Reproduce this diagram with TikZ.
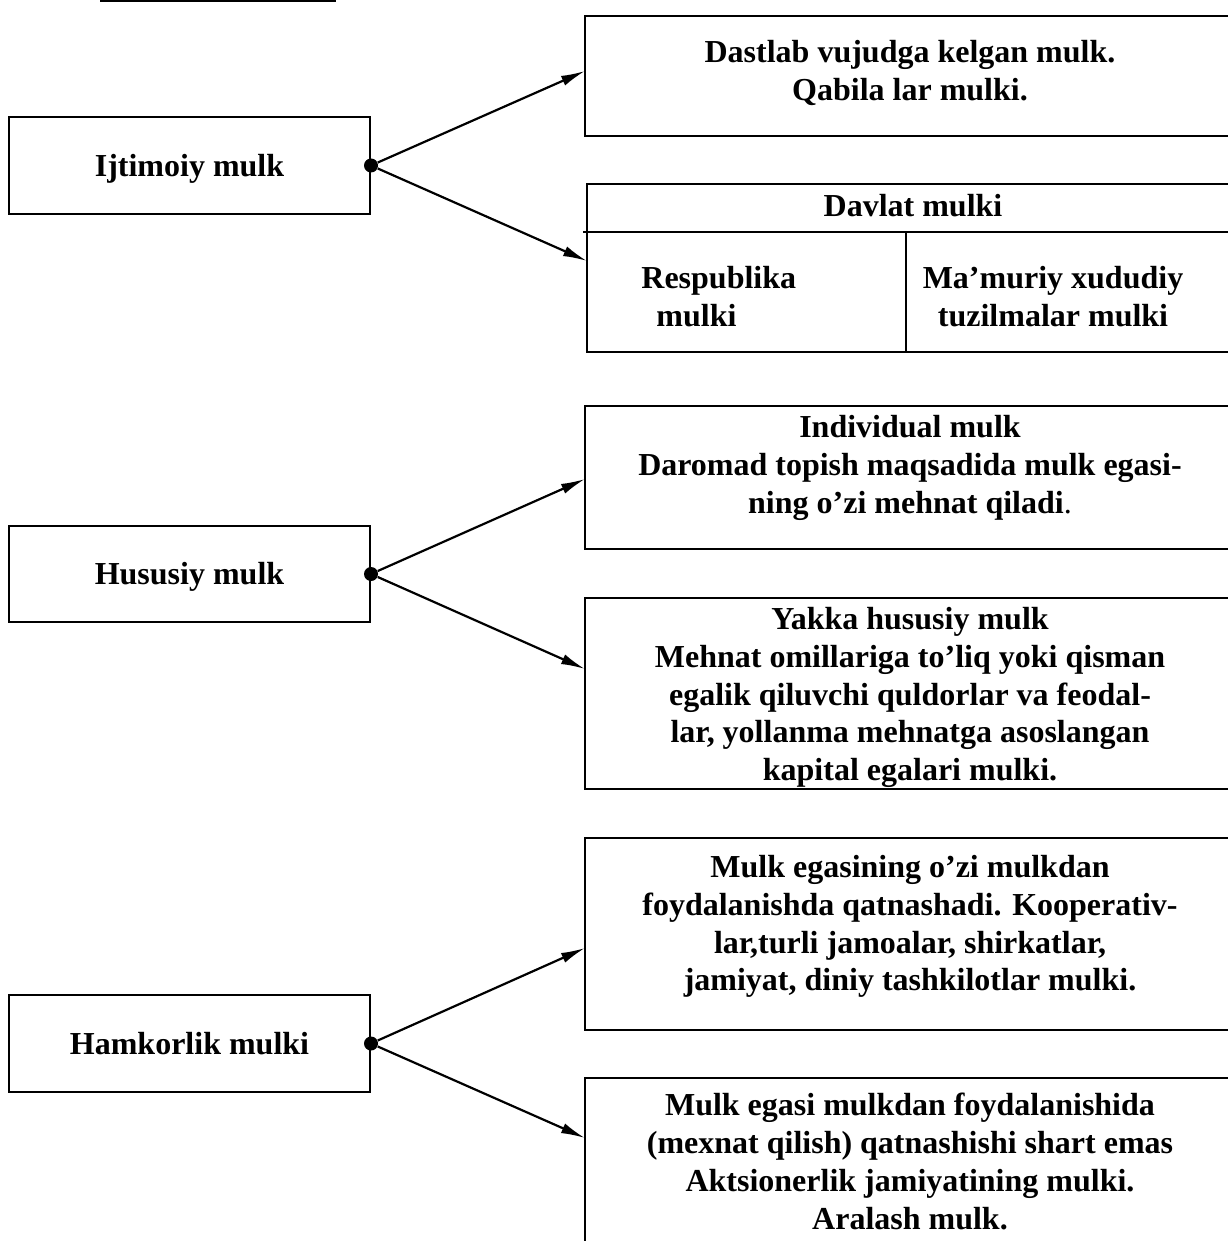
\documentclass[tikz,border=0pt]{standalone}
\usepackage{fontspec}
\setmainfont{Liberation Serif}
\usetikzlibrary{arrows.meta}
\begin{document}
\begin{tikzpicture}[x=0.5pt,y=-0.5pt,
every node/.style={font=\fontsize{16pt}{18.85pt}\selectfont\bfseries},
lbox/.style={draw, line width=1pt, inner sep=0pt, minimum width=180.5pt, minimum height=48.25pt, text height=10.6pt, text depth=0pt},
rbox/.style={draw, line width=1pt, inner sep=0pt, minimum width=325.5pt},
txt/.style={align=center, anchor=north, inner sep=0pt},
dot/.style={circle, fill, inner sep=0pt, minimum size=7pt},
arr/.style={-{Latex[length=12pt,width=5.2pt]}, line width=1.1pt}]
\useasboundingbox (0,0) rectangle (1227,1241);
\draw[line width=1pt] (100,1.5) -- (336,1.5);
\node[lbox] (ijtimoiy) at (189.5,165.5){Ijtimoiy mulk};
\node[lbox] (hususiy) at (189.5,574){Hususiy mulk};
\node[lbox] (hamkorlik) at (189.5,1043.5){Hamkorlik mulki};
\node[rbox, minimum height=60pt] (dastlab) at (910.5,76){};
\node[rbox, minimum width=324.5pt, minimum height=84pt] (davlat) at (911.5,268){};
\draw[line width=1pt] (583,232) -- (1236,232);
\draw[line width=1pt] (906,232) -- (906,352);
\node[rbox, minimum height=71.5pt] (individual) at (910.5,477.5){};
\node[rbox, minimum height=95.5pt] (yakka) at (910.5,693.5){};
\node[rbox, minimum height=96pt] (hamkor) at (910.5,934){};
\node[rbox, minimum height=96pt] (aralash) at (910.5,1174){};
\node[txt] (tdastlab) at (910,40){Dastlab vujudga kelgan mulk.\\Qabila lar mulki.};
\node[txt] (tdavlat) at (913,194){Davlat mulki};
\node[txt, anchor=north west, align=left] (trespublika) at (641,266){Respublika\\\hspace*{7.5pt}mulki};
\node[txt] (tmamuriy) at (1053,266){Ma’muriy xududiy\\tuzilmalar mulki};
\node[txt] (tindividual) at (910,415){Individual mulk\\Daromad topish maqsadida mulk egasi-\\ning o’zi mehnat qiladi{\mdseries.}};
\node[txt] (tyakka) at (910,607){Yakka hususiy mulk\\Mehnat omillariga to’liq yoki qisman\\egalik qiluvchi quldorlar va feodal-\\lar, yollanma mehnatga asoslangan\\kapital egalari mulki.};
\node[txt] (thamkor) at (910,855){Mulk egasining o’zi mulkdan\\foydalanishda qatnashadi. Kooperativ-\\lar,turli jamoalar, shirkatlar,\\jamiyat, diniy tashkilotlar mulki.};
\node[txt] (taralash) at (910,1093){Mulk egasi mulkdan foydalanishida\\(mexnat qilish) qatnashishi shart emas\\Aktsionerlik jamiyatining mulki.\\Aralash mulk.};
\node[dot] (dotI) at (ijtimoiy.east){};
\node[dot] (dotH) at (hususiy.east){};
\node[dot] (dotK) at (hamkorlik.east){};
\coordinate (inA) at (585,71);
\coordinate (inB) at (587,261);
\coordinate (inC) at (585,479);
\coordinate (inD) at (585,669);
\coordinate (inE) at (585,948);
\coordinate (inF) at (585,1138);
\draw[arr](dotI) -- (inA);
\draw[arr](dotI) -- (inB);
\draw[arr](dotH) -- (inC);
\draw[arr](dotH) -- (inD);
\draw[arr](dotK) -- (inE);
\draw[arr](dotK) -- (inF);
\end{tikzpicture}
\end{document}
